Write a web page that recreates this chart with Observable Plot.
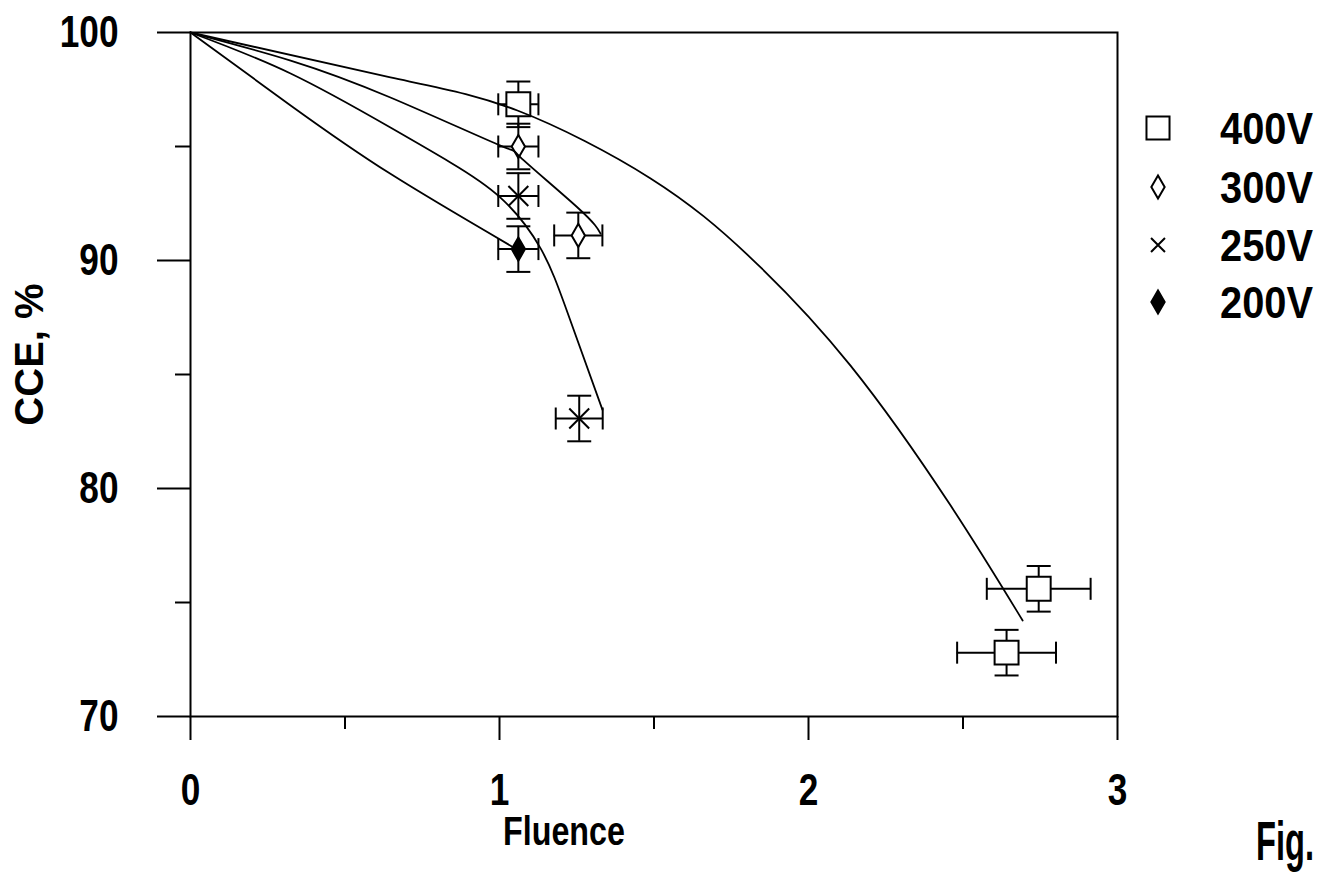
<!DOCTYPE html>
<html>
<head>
<meta charset="utf-8">
<script src="https://cdn.jsdelivr.net/npm/d3@7"></script>
<script src="https://cdn.jsdelivr.net/npm/@observablehq/plot@0.6"></script>
<style>
  html, body { margin: 0; padding: 0; background: #fff; }
  #wrap { position: relative; width: 1327px; height: 877px; overflow: hidden; background: #fff; }
  #overlay { position: absolute; left: 0; top: 0; pointer-events: none; }
</style>
</head>
<body>
<div id="wrap"></div>
<script>
const FONT = '"Liberation Sans", Arial, Helvetica, sans-serif';

// ---- Data ----
const seriesNames = ["400V", "300V", "250V", "200V"];
const seriesSymbols = ["square", "diamond", "times", "diamond"];
const seriesFills = ["white", "white", "none", "black"];

// measured points with error bars
const ptSeries     = ["400V", "400V", "400V", "300V", "300V", "250V", "250V", "200V"];
const ptFluence    = [1.061, 2.745, 2.641, 1.061, 1.255, 1.061, 1.258, 1.061];
const ptCCE        = [96.85, 75.6, 72.8, 95.0, 91.1, 92.83, 83.07, 90.5];
const ptFluenceErr = [0.065, 0.168, 0.16, 0.065, 0.078, 0.065, 0.076, 0.065];
const ptCCEErr     = [1, 1, 1, 1, 1, 1, 1, 1];

// fitted curves
const fit400x = [0, 0.647, 1.058, 1.489, 1.812, 2.136, 2.46, 2.693];
const fit400y = [100, 98.03, 96.58, 93.6, 90.13, 85.39, 79.25, 74.21];
const fit300x = [0, 0.324, 0.647, 1.003, 1.068, 1.256, 1.327];
const fit300y = [100, 98.77, 97.15, 95.04, 94.52, 92.28, 91.18];
const fit250x = [0, 0.324, 0.647, 0.841, 1.003, 1.133, 1.22, 1.333];
const fit250y = [100, 98.2, 95.83, 94.3, 92.76, 90.53, 87.72, 83.46];
const fit200x = [0, 0.324, 0.647, 1.061];
const fit200y = [100, 96.8, 93.8, 90.45];

const xMajor = [0, 1, 2, 3];
const xMinor = [0.5, 1.5, 2.5];
const yMajor = [70, 80, 90, 100];
const yMinor = [75, 85, 95];

// ---- Build tables ----
const points = ptSeries.map((s, i) => ({
  s, f: ptFluence[i], c: ptCCE[i], fe: ptFluenceErr[i], ce: ptCCEErr[i]
}));
const fits = [];
[[fit400x, fit400y, "400V"], [fit300x, fit300y, "300V"], [fit250x, fit250y, "250V"], [fit200x, fit200y, "200V"]]
  .forEach(([xs, ys, s]) => xs.forEach((x, i) => fits.push({s, f: x, c: ys[i]})));

// custom cap symbols (short horizontal / vertical strokes)
const hCap = { draw(ctx, size) { const r = Math.sqrt(size / Math.PI); ctx.moveTo(-r, 0); ctx.lineTo(r, 0); } };
const vCap = { draw(ctx, size) { const r = Math.sqrt(size / Math.PI); ctx.moveTo(0, -r); ctx.lineTo(0, r); } };

const symR = {"400V": 13.5, "300V": 7, "250V": 9.1, "200V": 7};

const markerMarks = seriesNames.map((s, i) =>
  Plot.dot(points.filter(d => d.s === s), {
    x: "f", y: "c",
    symbol: seriesSymbols[i],
    r: symR[s],
    fill: seriesFills[i],
    stroke: "black",
    strokeWidth: 2
  })
);

const plot = Plot.plot({
  width: 1327,
  height: 877,
  marginLeft: 190,
  marginRight: 210,
  marginTop: 32,
  marginBottom: 161,
  x: { domain: [0, 3] },
  y: { domain: [70, 100] },
  style: { fontFamily: FONT, fontWeight: "bold", background: "white", color: "black", overflow: "visible" },
  marks: [
    Plot.axisX(xMajor, { tickSize: 24, tickPadding: 33, fontSize: 44, fontWeight: "bold", strokeWidth: 2, label: null, tickFormat: d => String(d) }),
    Plot.axisX(xMinor, { tickSize: 13, strokeWidth: 2, label: null, tickFormat: () => "" }),
    Plot.axisY(yMajor, { tickSize: 33, tickPadding: 39, fontSize: 44, fontWeight: "bold", strokeWidth: 2, label: null, tickFormat: d => String(d) }),
    Plot.axisY(yMinor, { tickSize: 15, strokeWidth: 2, label: null, tickFormat: () => "" }),
    Plot.frame({ stroke: "black", strokeWidth: 2 }),
    // error bars
    Plot.ruleX(points, { x: "f", y1: d => d.c - d.ce, y2: d => d.c + d.ce, stroke: "black", strokeWidth: 2 }),
    Plot.ruleY(points, { y: "c", x1: d => d.f - d.fe, x2: d => d.f + d.fe, stroke: "black", strokeWidth: 2 }),
    Plot.dot(points, { x: "f", y: d => d.c + d.ce, symbol: hCap, r: 12, stroke: "black", strokeWidth: 2 }),
    Plot.dot(points, { x: "f", y: d => d.c - d.ce, symbol: hCap, r: 12, stroke: "black", strokeWidth: 2 }),
    Plot.dot(points, { x: d => d.f - d.fe, y: "c", symbol: vCap, r: 11, stroke: "black", strokeWidth: 2 }),
    Plot.dot(points, { x: d => d.f + d.fe, y: "c", symbol: vCap, r: 11, stroke: "black", strokeWidth: 2 }),
    ...markerMarks,
    // fitted curves
    Plot.line(fits, { x: "f", y: "c", z: "s", curve: "natural", stroke: "black", strokeWidth: 1.8 }),
    // axis titles
    Plot.text(["Fluence"], { frameAnchor: "bottom", textAnchor: "middle", dx: -90, dy: 128, fontSize: 40, fontWeight: "bold", fill: "black" }),
    Plot.text(["CCE, %"], { frameAnchor: "left", textAnchor: "middle", rotate: -90, dx: -160, dy: -20, fontSize: 40, fontWeight: "bold", fill: "black" })
  ]
});

const wrap = document.getElementById("wrap");
wrap.appendChild(plot);

// condense the lettering to match the narrow typeface of the original
function condense(el, target) {
  el.setAttribute("textLength", target);
  el.setAttribute("lengthAdjust", "spacingAndGlyphs");
}
d3.select(plot).selectAll("text").each(function () {
  const t = this.textContent.trim();
  if (!t || t === "CCE, %") return;
  const w = this.getComputedTextLength();
  if (t === "Fluence") condense(this, 122);
  else condense(this, w * 0.8);
});

// ---- Legend and figure label (overlay) ----
const ov = d3.select(wrap).append("svg")
  .attr("id", "overlay")
  .attr("width", 1327).attr("height", 877)
  .style("font-family", FONT).style("font-weight", "bold");

const legR = [13, 7, 6.4, 7];
const legY = [128, 187, 245, 302];
const symbolMap = { square: d3.symbolSquare, diamond: d3.symbolDiamond, times: d3.symbolTimes };
seriesNames.forEach((s, i) => {
  const g = ov.append("g").attr("transform", `translate(1158,${legY[i]})`);
  g.append("path")
    .attr("d", d3.symbol().type(symbolMap[seriesSymbols[i]]).size(legR[i] * legR[i] * Math.PI)())
    .attr("fill", seriesFills[i] === "black" ? "black" : "none")
    .attr("stroke", "black").attr("stroke-width", 2);
  const t = ov.append("text")
    .attr("x", 1220).attr("y", legY[i])
    .attr("dy", "0.36em")
    .attr("font-size", 45)
    .text(s);
  condense(t.node(), 93);
});

const fig = ov.append("text")
  .attr("x", 1256).attr("y", 860)
  .attr("font-size", 56)
  .text("Fig.");
condense(fig.node(), 58);
</script>
</body>
</html>
